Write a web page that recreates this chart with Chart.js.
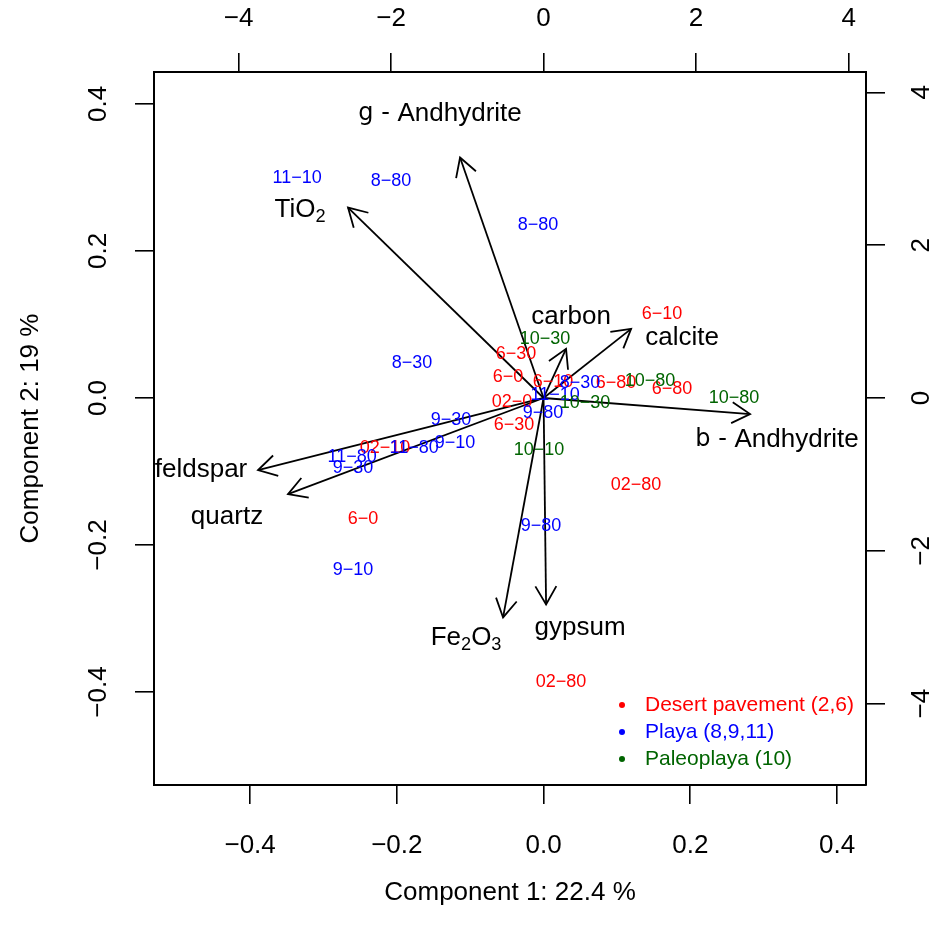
<!DOCTYPE html>
<html>
<head>
<meta charset="utf-8">
<script src="https://cdn.jsdelivr.net/npm/chart.js@4.4.0/dist/chart.umd.min.js"></script>
<style>
  html, body { margin: 0; padding: 0; background: #fff; }
</style>
</head>
<body>
<canvas id="biplot" width="937" height="943"></canvas>
<script>
// sample scores (component 1 / component 2)
var desertLabels = ["6\u221210","6\u221230","6\u22120","6\u221210","6\u221280","6\u221280","02\u22120","6\u221230","02\u221210","6\u22120","02\u221280","02\u221280"];
var desertX = [0.1615,-0.0375,-0.0484,0.0129,0.0988,0.1751,-0.0429,-0.0402,-0.2160,-0.2460,0.1261,0.0239];
var desertY = [0.1143,0.0599,0.0286,0.0218,0.0204,0.0122,-0.0054,-0.0367,-0.0680,-0.1646,-0.1184,-0.3864];

var playaLabels = ["11\u221210","8\u221280","8\u221280","8\u221230","8\u221230","11\u221210","9\u221280","9\u221230","9\u221210","11\u221280","11\u221280","9\u221230","9\u221210","9\u221280"];
var playaX = [-0.3359,-0.2078,-0.0075,-0.1792,0.0497,0.0157,-0.0007,-0.1261,-0.1206,-0.1765,-0.2610,-0.2596,-0.2596,-0.0034];
var playaY = [0.2993,0.2952,0.2354,0.0476,0.0204,0.0041,-0.0204,-0.0299,-0.0612,-0.0680,-0.0803,-0.0952,-0.2340,-0.1741];

var paleoLabels = ["10\u221230","10\u221280","10\u221280","10\u221230","10\u221210"];
var paleoX = [0.0020,0.1451,0.2596,0.0566,-0.0061];
var paleoY = [0.0803,0.0231,0.0000,-0.0068,-0.0707];

// variable loadings (top / right axes)
var varNames = ["g\u2212Andhydrite","TiO2","carbon","calcite","b\u2212Andhydrite","feldspar","quartz","Fe2O3","gypsum"];
var varX = [-1.095,-2.564,0.295,1.148,2.708,-3.744,-3.351,-0.531,0.033];
var varY = [3.148,2.492,0.643,0.905,-0.210,-0.944,-1.259,-2.872,-2.702];
var varLabelX = [-1.357,-3.193,0.361,1.816,3.062,-4.492,-4.151,-1.016,0.479];
var varLabelY = [3.725,2.466,1.062,0.787,-0.551,-0.944,-1.561,-3.134,-3.003];

var xTicks = [-0.4,-0.2,0,0.2,0.4];
var yTicks = [-0.4,-0.2,0,0.2,0.4];
var x2Ticks = [-4,-2,0,2,4];
var y2Ticks = [-4,-2,0,2,4];

var groupNames = ["Desert pavement (2,6)","Playa (8,9,11)","Paleoplaya (10)"];
var groupColors = ["#FF0000","#0000FF","#006400"];

var K = 9.62;            // ratio of the top/right scale to the bottom/left scale
var xLim = [-0.531, 0.4395];
var yLim = [-0.5265, 0.4435];
var FONT = '"Liberation Sans", Arial, sans-serif';

function pts(xs, ys) {
    return xs.map(function (v, i) { return {x: v, y: ys[i]}; });
}

var datasets = [
    {label: groupNames[0], data: pts(desertX, desertY), names: desertLabels, color: groupColors[0]},
    {label: groupNames[1], data: pts(playaX, playaY), names: playaLabels, color: groupColors[1]},
    {label: groupNames[2], data: pts(paleoX, paleoY), names: paleoLabels, color: groupColors[2]}
].map(function (d) {
    return {
        type: 'scatter', label: d.label, data: d.data, names: d.names,
        pointRadius: 0, borderColor: d.color, backgroundColor: d.color,
        xAxisID: 'x', yAxisID: 'y', isSample: true
    };
});

varNames.forEach(function (n, i) {
    datasets.push({
        type: 'line', label: n, data: [{x: 0, y: 0}, {x: varX[i], y: varY[i]}],
        borderColor: '#000', borderWidth: 1.8, pointRadius: 0, fill: false,
        xAxisID: 'x2', yAxisID: 'y2', isArrow: true, varIndex: i
    });
});

function axisOpts(pos, min, max, ticks, size) {
    return {
        type: 'linear', position: pos, min: min, max: max,
        afterBuildTicks: function (s) { s.ticks = ticks.map(function (v) { return {value: v}; }); },
        afterFit: function (s) {
            if (pos === 'top' || pos === 'bottom') s.height = size; else s.width = size;
        },
        grid: {drawOnChartArea: false, drawTicks: true, tickLength: 19, color: '#000', lineWidth: 1.6},
        border: {display: true, color: '#000', width: 2},
        ticks: {display: false}
    };
}

function fmt1(v) { return (v < 0 ? '\u2212' : '') + Math.abs(v).toFixed(1); }
function fmt0(v) { return (v < 0 ? '\u2212' : '') + Math.abs(v).toFixed(0); }

// text with subscripts, e.g. TiO2, Fe2O3
function drawChem(ctx, txt, cx, cy, size) {
    var parts = [];
    txt.replace(/([A-Za-z]+)|(\d+)/g, function (m, a, b) { parts.push({t: m, sub: !!b}); });
    var w = 0;
    parts.forEach(function (p) {
        ctx.font = (p.sub ? size * 0.7 : size) + 'px ' + FONT;
        p.w = ctx.measureText(p.t).width; w += p.w;
    });
    var x = cx - w / 2;
    ctx.textAlign = 'left';
    parts.forEach(function (p) {
        ctx.font = (p.sub ? size * 0.7 : size) + 'px ' + FONT;
        ctx.fillText(p.t, x, p.sub ? cy + size * 0.3 : cy);
        x += p.w;
    });
    ctx.textAlign = 'center';
}

var biplotPlugin = {
    id: 'biplotPlugin',
    afterDatasetsDraw: function (chart) {
        var ctx = chart.ctx;
        var sx2 = chart.scales.x2, sy2 = chart.scales.y2;
        ctx.save();
        ctx.textAlign = 'center';
        ctx.textBaseline = 'middle';
        chart.data.datasets.forEach(function (ds, di) {
            var meta = chart.getDatasetMeta(di);
            if (ds.isSample) {
                ctx.fillStyle = ds.borderColor;
                ctx.font = '18px ' + FONT;
                meta.data.forEach(function (el, j) {
                    ctx.fillText(ds.names[j], el.x, el.y);
                });
            }
            if (ds.isArrow) {
                var p0 = meta.data[0], p1 = meta.data[1];
                var a = Math.atan2(p1.y - p0.y, p1.x - p0.x);
                var L = 21, h = Math.PI / 6;
                ctx.strokeStyle = '#000';
                ctx.lineWidth = 1.8;
                ctx.beginPath();
                ctx.moveTo(p1.x - L * Math.cos(a - h), p1.y - L * Math.sin(a - h));
                ctx.lineTo(p1.x, p1.y);
                ctx.lineTo(p1.x - L * Math.cos(a + h), p1.y - L * Math.sin(a + h));
                ctx.stroke();
                var i = ds.varIndex;
                var lx = sx2.getPixelForValue(varLabelX[i]);
                var ly = sy2.getPixelForValue(varLabelY[i]);
                ctx.fillStyle = '#000';
                var name = varNames[i];
                if (/\d/.test(name)) {
                    drawChem(ctx, name, lx, ly, 26);
                } else if (name.indexOf('\u2212') === 1) {
                    var pre = name.charAt(0) + ' - ';
                    var rest = name.slice(2);
                    ctx.font = '24px "DejaVu Sans", sans-serif';
                    var w1 = ctx.measureText(pre).width;
                    ctx.font = '26px ' + FONT;
                    var w2 = ctx.measureText(rest).width;
                    var x0 = lx - (w1 + w2) / 2;
                    ctx.textAlign = 'left';
                    ctx.font = '24px "DejaVu Sans", sans-serif';
                    ctx.fillText(pre, x0, ly);
                    ctx.font = '26px ' + FONT;
                    ctx.fillText(rest, x0 + w1, ly);
                    ctx.textAlign = 'center';
                } else {
                    ctx.font = '26px ' + FONT;
                    ctx.fillText(name, lx, ly);
                }
            }
        });
        ctx.restore();
    },
    afterDraw: function (chart) {
        var ctx = chart.ctx, s = chart.scales;
        ctx.save();
        ctx.fillStyle = '#000';
        ctx.textAlign = 'center';
        ctx.textBaseline = 'middle';
        ctx.font = '26px ' + FONT;
        xTicks.forEach(function (v) { ctx.fillText(fmt1(v), s.x.getPixelForValue(v), 846); });
        x2Ticks.forEach(function (v) { ctx.fillText(fmt0(v), s.x2.getPixelForValue(v), 19); });
        yTicks.forEach(function (v) {
            ctx.save();
            ctx.translate(99, s.y.getPixelForValue(v));
            ctx.rotate(-Math.PI / 2);
            ctx.fillText(fmt1(v), 0, 0);
            ctx.restore();
        });
        y2Ticks.forEach(function (v) {
            ctx.save();
            ctx.translate(922, s.y2.getPixelForValue(v));
            ctx.rotate(-Math.PI / 2);
            ctx.fillText(fmt0(v), 0, 0);
            ctx.restore();
        });
        // axis titles
        var area = chart.chartArea;
        ctx.fillText('Component 1: 22.4 %', (area.left + area.right) / 2, 893);
        ctx.save();
        ctx.translate(31, (area.top + area.bottom) / 2);
        ctx.rotate(-Math.PI / 2);
        ctx.fillText('Component 2: 19 %', 0, 0);
        ctx.restore();
        // legend
        ctx.font = '21px ' + FONT;
        ctx.textAlign = 'left';
        chart.data.datasets.filter(function (d) { return d.isSample; }).forEach(function (d, i) {
            var y = 705 + i * 27;
            ctx.fillStyle = d.borderColor;
            ctx.beginPath();
            ctx.arc(622, y, 3, 0, Math.PI * 2);
            ctx.fill();
            ctx.fillText(d.label, 645, y);
        });
        ctx.restore();
    }
};

var ctx = document.getElementById('biplot').getContext('2d');
var biplot = new Chart(ctx, {
    data: {datasets: datasets},
    options: {
        responsive: false,
        animation: false,
        layout: {padding: 0},
        plugins: {legend: {display: false}, tooltip: {enabled: false}, title: {display: false}},
        scales: {
            x: axisOpts('bottom', xLim[0], xLim[1], xTicks, 158),
            y: axisOpts('left', yLim[0], yLim[1], yTicks, 154),
            x2: axisOpts('top', xLim[0] * K, xLim[1] * K, x2Ticks, 72),
            y2: axisOpts('right', yLim[0] * K, yLim[1] * K, y2Ticks, 71)
        }
    },
    plugins: [biplotPlugin]
});
</script>
</body>
</html>
